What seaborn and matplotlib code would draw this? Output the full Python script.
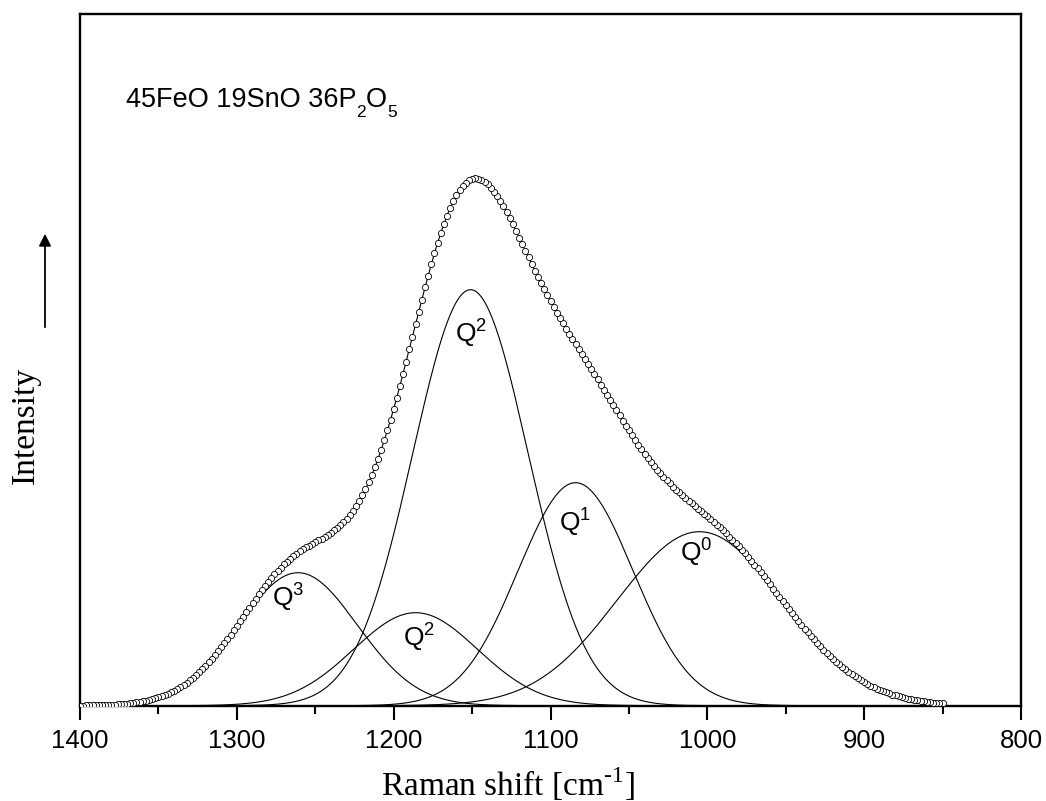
import numpy as np
import pandas as pd
import matplotlib
matplotlib.use("Agg")
import matplotlib.pyplot as plt
from matplotlib.ticker import MultipleLocator
from matplotlib.transforms import offset_copy
import seaborn as sns

# Gaussian band components of the phosphate stretching region
band_names = ["Q3", "Q2 (minor)", "Q2", "Q1", "Q0"]
band_labels = ["Q$^3$", "Q$^2$", "Q$^2$", "Q$^1$", "Q$^0$"]
band_centers = [1261, 1186, 1151, 1084, 1005]   # Raman shift, cm^-1
band_heights = [133, 93, 416, 223, 174]         # intensity, a.u.
band_sigmas = [37.9, 39.5, 36.8, 36.6, 52.5]    # Gaussian width, cm^-1

# recorded range and tick labels
shift_start, shift_end = 1400, 850
x_tick_values = [1400, 1300, 1200, 1100, 1000, 900, 800]

sns.set_style("ticks")
plt.rcParams["font.family"] = ["Liberation Sans", "DejaVu Sans"]
plt.rcParams["text.color"] = "black"
plt.rcParams["axes.labelcolor"] = "black"
plt.rcParams["xtick.color"] = "black"
plt.rcParams["mathtext.fontset"] = "custom"
plt.rcParams["mathtext.rm"] = "Liberation Sans"
plt.rcParams["mathtext.it"] = "Liberation Sans:italic"
plt.rcParams["mathtext.bf"] = "Liberation Sans:bold"


def gaussian(x, c, h, s):
    return h * np.exp(-((x - c) ** 2) / (2.0 * s ** 2))


shift_fine = np.arange(shift_end, shift_start + 0.5, 1.0)
shift_pts = np.arange(shift_end, shift_start + 0.5, 2.0)

rows = []
for name, c, h, s in zip(band_names, band_centers, band_heights, band_sigmas):
    rows.append(pd.DataFrame({"shift": shift_fine, "intensity": gaussian(shift_fine, c, h, s), "band": name}))
components = pd.concat(rows, ignore_index=True)

envelope = pd.DataFrame({
    "shift": shift_fine,
    "intensity": sum(gaussian(shift_fine, c, h, s) for c, h, s in zip(band_centers, band_heights, band_sigmas)),
})
spectrum = pd.DataFrame({
    "shift": shift_pts,
    "intensity": sum(gaussian(shift_pts, c, h, s) for c, h, s in zip(band_centers, band_heights, band_sigmas)),
})

W, H = 1046, 801
fig = plt.figure(figsize=(W / 100, H / 100), dpi=100)
left, right, top, bottom = 80, 1021, 14, 705.7
ax = fig.add_axes([left / W, 1 - bottom / H, (right - left) / W, (bottom - top) / H])

sns.lineplot(data=components, x="shift", y="intensity", units="band", estimator=None,
             color="black", linewidth=0.8, sort=False, legend=False, ax=ax)
sns.lineplot(data=envelope, x="shift", y="intensity", color="black", linewidth=0.8, ax=ax)
sns.scatterplot(data=spectrum, x="shift", y="intensity", marker="o", s=20,
                facecolor="white", edgecolor="black", linewidth=0.6, zorder=3, ax=ax)

ax.set_xlim(1400, 800)
ax.set_ylim(0, bottom - top)
ax.set_xticks(x_tick_values)
ax.set_xticklabels([str(v) for v in x_tick_values])
ax.xaxis.set_minor_locator(MultipleLocator(50))
ax.set_yticks([])
ax.set_xlabel("")
ax.set_ylabel("")
for sp in ax.spines.values():
    sp.set_visible(True)
    sp.set_linewidth(1.7)
    sp.set_color("black")
ax.tick_params(axis="x", which="major", direction="out", length=10, width=1.5,
               pad=7, labelsize=18.5, colors="black", bottom=True, top=False)
ax.tick_params(axis="x", which="minor", direction="out", length=5.5, width=1.5,
               bottom=True, top=False)

# band labels, anchored at their lower-left corner
label_positions = [(1277.6, 99.2), (1194.1, 59.2), (1160.9, 363.2), (1094.6, 174.2), (1017.4, 144.2)]
for txt, (lx, ly) in zip(band_labels, label_positions):
    ax.text(lx, ly, txt, fontsize=19, ha="left", va="baseline", color="black")

# sample composition written as runs of (text, size, baseline shift in points)
fig.canvas.draw()
renderer = fig.canvas.get_renderer()
runs = [("45FeO 19SnO 36P", 19.5, 0.0), ("2", 12.5, -7.5), ("O", 19.5, 0.0), ("5", 12.5, -7.5)]
x0, y0 = 126 / W, 1 - 106.7 / H
dx_pts = 0.0
for s, size, dy in runs:
    tr = offset_copy(fig.transFigure, fig=fig, x=dx_pts, y=dy, units="points")
    t = fig.text(x0, y0, s, fontsize=size, ha="left", va="baseline", transform=tr)
    bb = t.get_window_extent(renderer=renderer)
    dx_pts += bb.width * 72.0 / fig.dpi

fig.text(508 / W, 1 - 795 / H, "Raman shift [cm$^{\\mathregular{\u2010}\\mathregular{1}}$]",
         family=["Liberation Serif"], fontsize=24, ha="center", va="baseline")
fig.text(25 / W, 1 - 425 / H, "Intensity", family=["Liberation Serif"], fontsize=24,
         rotation=90, ha="center", va="center")
fig.patches.append(matplotlib.patches.FancyArrowPatch(
    (45 / W, 1 - 330 / H), (45 / W, 1 - 231 / H), transform=fig.transFigure,
    arrowstyle="-|>", mutation_scale=18, linewidth=1.3, color="black"))

fig.savefig("out.png", dpi=100)
